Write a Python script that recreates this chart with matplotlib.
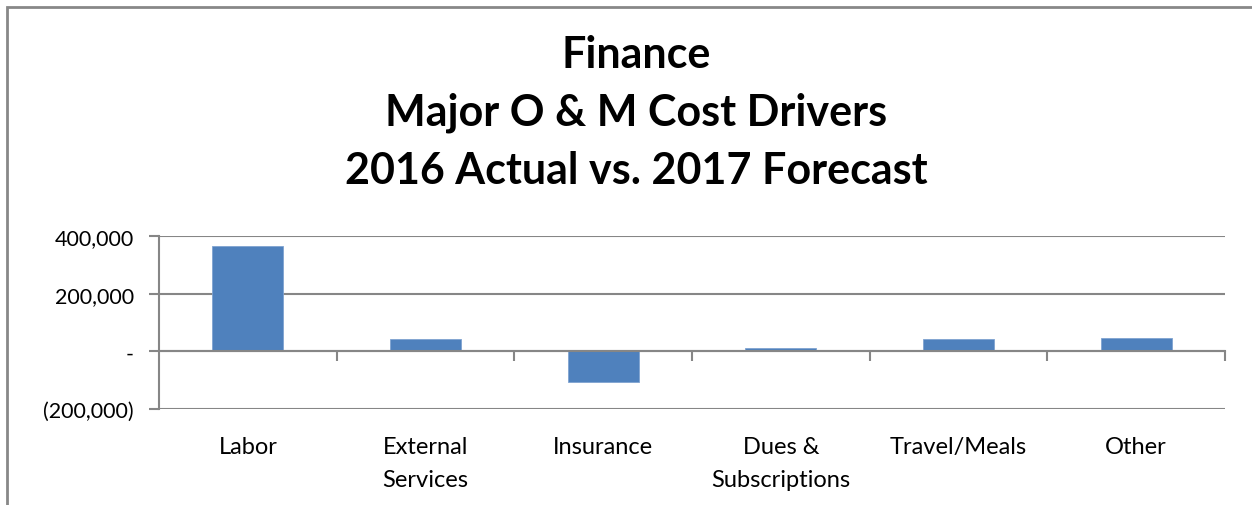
import matplotlib
matplotlib.use("Agg")
import matplotlib.pyplot as plt
from matplotlib.patches import Rectangle
from matplotlib.ticker import FuncFormatter, FixedLocator
import numpy as np

categories = ["Labor", "External\nServices", "Insurance", "Dues &\nSubscriptions", "Travel/Meals", "Other"]
values = [367000, 43000, -106000, 11500, 42000, 46000]
yticks = [-200000, 0, 200000, 400000]
title = "Finance\nMajor O & M Cost Drivers\n2016 Actual vs. 2017 Forecast"

plt.rcParams['font.family'] = ['Lato', 'DejaVu Sans']

fig = plt.figure(figsize=(12.52, 5.06), dpi=100)
ax = fig.add_axes([159/1252, 1-410/506, (1225-159)/1252, (410-237)/506])

x = np.arange(len(categories))
ax.bar(x, values, width=0.4, color="#4F81BD", edgecolor="#7FA3D1", linewidth=0.6, zorder=3)

ax.set_xlim(-0.5, len(categories)-0.5)
ax.set_ylim(-200000, 400000)
ax.set_yticks(yticks)

def fmt(v, pos):
    if v == 0:
        return "-"
    if v < 0:
        return "({:,.0f})".format(-v)
    return "{:,.0f}".format(v)
ax.yaxis.set_major_formatter(FuncFormatter(fmt))
ax.yaxis.grid(True, color="#868686", linewidth=1.5, zorder=1)
ax.tick_params(axis='y', length=7, width=1.5, color="#868686", labelsize=15.5, pad=11, labelcolor="black")

ax.spines['bottom'].set_position(('data', 0))
for s in ['top', 'right']:
    ax.spines[s].set_visible(False)
ax.spines['left'].set_color("#868686")
ax.spines['left'].set_linewidth(1.5)
ax.spines['bottom'].set_color("#868686")
ax.spines['bottom'].set_linewidth(1.5)
ax.spines['bottom'].set_zorder(4)

ax.set_xticks(x)
ax.set_xticklabels(categories, fontsize=17, linespacing=1.68)
ax.xaxis.set_minor_locator(FixedLocator(np.arange(0.5, len(categories), 1.0)))
ax.tick_params(axis='x', which='major', length=0, pad=61)
ax.tick_params(axis='x', which='minor', length=7, width=1.5, color="#868686")

fig.text(636/1252, 1-113/506, title, ha='center', va='center', fontsize=31, fontweight='bold', linespacing=1.55)

border = Rectangle((7/1252, -0.2), 1.2, 1.2 - 8/506, transform=fig.transFigure,
                   fill=False, edgecolor="#888888", linewidth=2, clip_on=False)
fig.patches.append(border)

fig.savefig("out.png", dpi=100)
